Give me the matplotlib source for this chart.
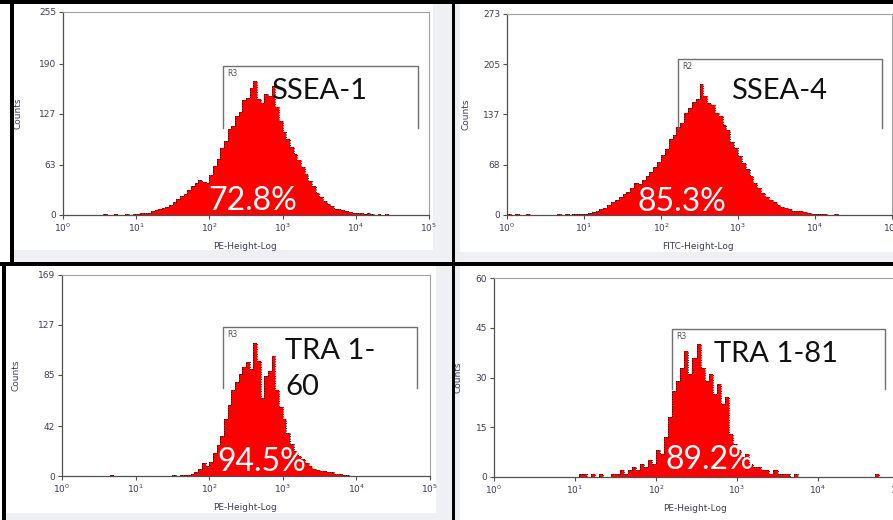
import numpy as np
import matplotlib.pyplot as plt
from matplotlib.patches import Rectangle
from matplotlib.ticker import NullLocator

W, H = 893, 520
BIN_STEP = 0.05  # width of one histogram bin, in decades

# SSEA-1 (PE), bins start at 10^0.50
ssea1_start = 0.50
ssea1_counts = [0, 1, 0, 0, 1, 0, 0, 1, 0, 1,
                1, 2, 2, 3, 5, 6, 7, 9, 10, 13, 16, 20, 24, 27, 32, 37, 40, 44, 42, 40,
                50, 61, 70, 84, 93, 108, 112, 124, 130, 145, 147, 160, 168, 146, 141, 152, 150, 162, 136, 118,
                104, 95, 86, 77, 69, 60, 52, 43, 36, 28, 23, 18, 14, 11, 8, 7, 6, 5, 4, 3,
                3, 2, 1, 2, 1, 0, 1, 0, 1, 0]

# SSEA-4 (FITC), bins start at 10^0.00
ssea4_start = 0.00
ssea4_counts = [1, 0, 1, 0, 0, 1, 0, 0, 0, 0, 0, 0, 0, 1, 0, 1, 0, 1, 1, 1,
                2, 3, 4, 6, 8, 10, 13, 17, 20, 24, 28, 31, 37, 44, 42, 48, 53, 58, 65, 72,
                82, 90, 103, 108, 120, 125, 139, 146, 154, 158, 178, 162, 152, 149, 138, 134, 122, 116, 99, 91,
                80, 71, 62, 53, 44, 36, 30, 25, 21, 17, 14, 11, 9, 8, 6, 5, 5, 4, 3, 2,
                2, 1, 1, 0, 0, 1]

# TRA 1-60 (PE), bins start at 10^0.60
tra160_start = 0.60
tra160_counts = [0, 1, 0, 0, 0, 0, 0, 0, 0, 0, 0, 0, 0, 0, 0, 0, 0, 0,
                 1, 0, 1, 1, 1, 2, 3, 6, 11, 8,
                 12, 19, 26, 34, 48, 60, 72, 79, 86, 92, 96, 90, 112, 97, 66, 84, 88, 101, 72, 58,
                 48, 36, 27, 21, 17, 14, 11, 8, 6, 5, 4, 4, 3, 3, 2, 2, 1, 1]

# TRA 1-81 (PE), bins start at 10^1.00
tra181_start = 1.00
tra181_counts = [0, 1, 1, 0, 1, 0, 1, 0, 0, 1, 1, 2, 1, 2, 3, 2, 4, 3, 5, 4,
                 8, 7, 12, 18, 26, 29, 33, 38, 31, 36, 40, 33, 29, 31, 25, 28, 22, 24, 13, 10,
                 8, 6, 7, 4, 3, 3, 2, 2, 1, 2, 1, 1, 1, 0, 1, 0, 0, 0, 0, 0,
                 0, 0, 0, 0, 0, 0, 0, 0, 0, 0, 0, 0, 0, 0, 1]

markers = ["SSEA-1", "SSEA-4", "TRA 1-\n60", "TRA 1-81"]
percents = ["72.8%", "85.3%", "94.5%", "89.2%"]
x_labels = ["PE-Height-Log", "FITC-Height-Log", "PE-Height-Log", "PE-Height-Log"]
y_ticks = [[0, 63, 127, 190, 255], [0, 68, 137, 205, 273],
           [0, 42, 85, 127, 169], [0, 15, 30, 45, 60]]
gate_names = ["R3", "R2", "R3", "R3"]
# gate: log10 left, log10 right, top count, bottom count
gates = [(2.19, 4.85, 187, 109), (2.22, 4.87, 212, 118),
         (2.19, 4.82, 125, 74), (2.20, 4.83, 44.6, 26.5)]


def px_box(left, top, right, bottom):
    """Pixel box (top-left origin) -> figure fraction rect."""
    return [left / W, 1 - bottom / H, (right - left) / W, (bottom - top) / H]


def px_fill(fig, left, top, right, bottom, color, z=5):
    fig.add_artist(Rectangle((left / W, 1 - bottom / H), (right - left) / W,
                             (bottom - top) / H, transform=fig.transFigure,
                             facecolor=color, edgecolor="none", zorder=z))


def draw_panel(ax, start, counts, i, text_pos, pct_pos, ylab_x):
    edges = 10 ** (start + BIN_STEP * np.arange(len(counts) + 1))
    ax.stairs(counts, edges, fill=True, color="#ff0000", zorder=2)
    ax.stairs(counts, edges, color="black", linestyle=(0, (1, 1.5)), lw=0.7, zorder=3)

    ax.set_xscale("log")
    ax.set_xlim(1, 1e5)
    ax.set_ylim(0, y_ticks[i][-1])
    ax.set_yticks(y_ticks[i])
    ax.xaxis.set_minor_locator(NullLocator())
    ax.tick_params(direction="out", length=3, width=0.8, color="#505050",
                   labelsize=6.5, labelcolor="#3c3c5a", pad=2)
    for s in ["left", "bottom"]:
        ax.spines[s].set_color("#505050")
        ax.spines[s].set_linewidth(0.9)
    for s in ["top", "right"]:
        ax.spines[s].set_color("#a0a0a0")
        ax.spines[s].set_linewidth(0.8)

    ax.set_ylabel("Counts", fontsize=6.5, color="#3c3c5a")
    ax.yaxis.set_label_coords(ylab_x, 0.5)
    ax.set_xlabel(x_labels[i], fontsize=6.5, color="#3c3c5a")
    ax.xaxis.set_label_coords(0.497, -0.135)

    # gate bracket
    g0, g1, gt, gb = gates[i]
    x0, x1 = 10 ** g0, 10 ** g1
    ax.plot([x0, x0, x1, x1], [gb, gt, gt, gb], color="#707070", lw=1.0, zorder=4)
    ax.annotate(gate_names[i], (x0, gt), xytext=(3, -2), textcoords="offset points",
                fontsize=5.5, color="#505060", va="top", ha="left", zorder=5)

    ax.text(10 ** text_pos[0], text_pos[1], markers[i], fontsize=21,
            family="Lato", color="#111111", va="center", ha="left",
            linespacing=1.45, zorder=5)
    ax.text(10 ** pct_pos[0], pct_pos[1], percents[i], fontsize=23,
            family="Lato", color="white", va="center", ha="center", zorder=6)


def main():
    fig = plt.figure(figsize=(W / 100, H / 100), dpi=100)
    fig.patch.set_facecolor("white")

    # light grey margins of the four screenshots
    px_fill(fig, 433, 4, 452, 262, "#eef0f4", z=-1)
    px_fill(fig, 12, 250, 452, 262, "#eef0f4", z=-1)
    px_fill(fig, 455, 252, 893, 262, "#eef0f4", z=-1)
    px_fill(fig, 455, 4, 460, 262, "#eef0f4", z=-1)
    px_fill(fig, 436, 266, 452, 520, "#eef0f4", z=-1)
    px_fill(fig, 5, 513, 452, 520, "#eef0f4", z=-1)
    px_fill(fig, 455, 266, 460, 520, "#eef0f4", z=-1)

    axes = [fig.add_axes(px_box(63, 12, 429, 215)),
            fig.add_axes(px_box(507, 14, 892, 215)),
            fig.add_axes(px_box(62, 275, 430, 476)),
            fig.add_axes(px_box(494, 278, 899, 477))]

    draw_panel(axes[0], ssea1_start, ssea1_counts, 0, (2.84, 156), (2.59, 17), -0.112)
    draw_panel(axes[1], ssea4_start, ssea4_counts, 1, (2.91, 168), (2.27, 18), -0.096)
    draw_panel(axes[2], tra160_start, tra160_counts, 2, (3.03, 90), (2.72, 12), -0.114)
    draw_panel(axes[3], tra181_start, tra181_counts, 3, (2.72, 37), (2.67, 5), -0.077)

    # black frames between the screenshots
    px_fill(fig, 0, 0, W, 4, "black")
    px_fill(fig, 452, 0, 455, H, "black")
    px_fill(fig, 0, 262, W, 266, "black")
    px_fill(fig, 10, 0, 14, 262, "black")
    px_fill(fig, 2, 262, 6, H, "black")

    fig.savefig("out.png", dpi=100)


if __name__ == "__main__":
    main()
